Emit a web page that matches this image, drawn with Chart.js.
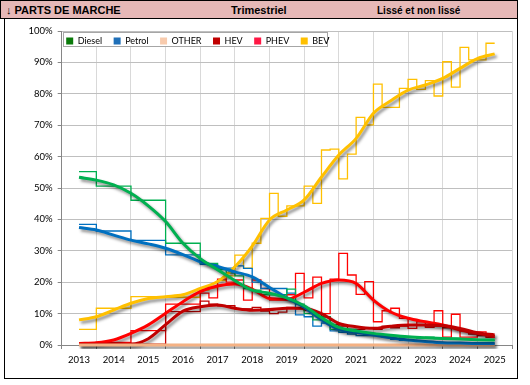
<!DOCTYPE html>
<html><head><meta charset="utf-8">
<script src="https://cdn.jsdelivr.net/npm/chart.js@4"></script>
<style>
html,body{margin:0;padding:0;background:#fff;width:530px;height:385px;overflow:hidden;position:relative}
#hdr{position:absolute;left:0;top:0;width:518px;height:19px;background:#E6B8B7;border:1px solid #000;box-sizing:border-box}
#hdr span{position:absolute;top:3px;font:bold 11px "Liberation Sans",Arial,sans-serif;color:#000;white-space:nowrap}
#frame{position:absolute;left:4px;top:19px;width:514px;height:360px;border:1.5px solid #000;border-top:none;box-sizing:border-box}
#c{position:absolute;left:0;top:0}
</style></head><body>
<div id="frame"></div>
<div id="hdr"><span style="left:5px">&#8595; PARTS DE MARCHE</span><span style="left:230px">Trimestriel</span><span style="left:376px;font-size:10px;top:4px">Lissé et non lissé</span></div>
<canvas id="c" width="530" height="385"></canvas>
<script>
// ---------- DATA ----------
const years = ['2013','2014','2015','2016','2017','2018','2019','2020','2021','2022','2023','2024','2025'];
const seriesNames = ['Diesel','Petrol','OTHER','HEV','PHEV','BEV'];

// raw (non-smoothed) periods: H2 2013, then yearly 2014-2016, then quarterly from 2017
const periodStart = [2013.5,2014,2015,2016,
  2017,2017.25,2017.5,2017.75, 2018,2018.25,2018.5,2018.75, 2019,2019.25,2019.5,2019.75,
  2020,2020.25,2020.5,2020.75, 2021,2021.25,2021.5,2021.75, 2022,2022.25,2022.5,2022.75,
  2023,2023.25,2023.5,2023.75, 2024,2024.25,2024.5,2024.75, 2025,2025.25];
const periodEnd = 2025.5;

const dieselRaw = [55.2,50.6,46.1,32.4, 26,26,24,23, 22,18,17.5,16, 16,16,17.8,13, 10,8,9,5, 4.5,5,4,3.5, 3.5,3,3,2.5, 2.5,2.2,2.5,2, 2,2.2,2,1.8, 1.5,1.5];
const petrolRaw = [38.4,36.3,33.3,28.7, 25.7,25.7,24.5,24.5, 25.2,24.4,20,18, 18,18,16.5,9.6, 9,6,7,4.5, 4,3.5,3,3, 3,2.5,1.8,1.5, 1.5,1.2,1,0.8, 0.7,0.6,0.6,0.5, 0.5,0.5];
const otherRaw  = [0,0,0,0, 0,0,0,0, 0,0,0,0, 0,0,0,0, 0,0,0,0, 0,0,0,0, 0,0,0,0, 0,0,0,0, 0,0,0,0, 0,0];
const hevRaw    = [0.2,0.3,0.3,10.6, 14,13,12.5,12.5, 11.5,11.5,12,10.8, 10,10.5,12,11.5, 11,10,9,6.5, 6,5,5,5.5, 5,6,5.5,6, 6.5,6.5,6,6, 5.5,5.5,4.5,3.5, 3,3];
const phevRaw   = [0.5,0.8,4.6,13, 16.5,15,21,20, 20.7,14.3,20.7,18, 14.3,14.3,16,22.8, 15,21.6,10,21, 29.2,22.3,16.1,20.2, 7.4,10.9,11.7,8.5, 5.3,7.4,5.6,10.9, 2.5,9.8,2.5,2.5, 4.2,2.4];
const bevRaw    = [5.0,11.7,15.4,15.2, 17.5,18.2,20.5,22, 28.6,24.5,32.4,40.3, 48.3,41,44.3,44.3, 50.6,45.1,62.1,62.4, 52.9,60.8,72.5,70.1, 83.1,75.7,75.7,81.7, 84.6,81.4,84.2,79.3, 90.2,82.1,94.8,90.8, 90.8,96.1];

// smoothed series, read every half year
const smoothT = [2013.5,2014,2014.5,2015,2015.5,2016,2016.5,2017,2017.5,2018,2018.5,2019,2019.5,2020,2020.5,2021,2021.5,2022,2022.5,2023,2023.5,2024,2024.5,2025,2025.5];
const dieselSm = [53.4,52.5,51,48.3,44.3,39.3,32.4,27.5,24,20.5,17.5,16.5,15,12.5,8.7,5.6,4.5,3.7,3.1,2.6,2.3,2.1,1.9,1.7,1.6];
const petrolSm = [37.4,36.6,35,33.4,32.2,30.8,28.8,26.5,25,23.3,21.7,18.3,15,12,8,5,4,3.2,2.3,1.6,1.1,0.7,0.6,0.5,0.5];
const otherSm  = [0,0,0,0,0,0,0,0,0,0,0,0,0,0,0,0,0,0,0,0,0,0,0,0,0];
const hevSm    = [0.2,0.2,0.2,0.3,2,6.5,10.8,12.2,12.7,11.7,11.1,11.3,11.7,11.7,10,6.9,5.8,5.3,6,6.4,6.4,6.2,5.3,3.9,3.2];
const phevSm   = [0.5,0.7,1.6,3.7,6.4,10.1,13.8,17,18.8,19.4,17.8,14.8,14.6,16.8,19.6,20.7,19.6,14.3,10.5,8.5,7.4,6.4,4.8,3.7,2.6];
const bevSm    = [8,9,11.1,13.3,14.8,15.4,16,18,20.2,24.9,31.5,39.8,43,46.2,53.5,60.5,65.8,73.8,77.8,81.2,82.8,84.9,88.1,91.2,92.7];

const yTicks = [0,10,20,30,40,50,60,70,80,90,100];

// ---------- STYLE ----------
const lineColors = ['#00B050','#0070C0','#F4B183','#C00000','#FF0000','#FFC000'];
const legendColors = ['#0A7A0A','#1F6FB8','#F8CBAD','#C00000','#FF1744','#FFC000'];
const rawSets = [dieselRaw,petrolRaw,otherRaw,hevRaw,phevRaw,bevRaw];
const smSets = [dieselSm,petrolSm,otherSm,hevSm,phevSm,bevSm];

const datasets = [];
rawSets.forEach((vals,i)=>{
  const pts = periodStart.map((t,k)=>({x:t,y:vals[k]}));
  pts.push({x:periodEnd,y:vals[vals.length-1]});
  datasets.push({label:seriesNames[i]+' raw',data:pts,xAxisID:'xd',stepped:true,borderColor:lineColors[i],
    borderWidth:1.3,pointRadius:0,fill:false,order:2,clip:4});
});
const smoothIdx = new Set();
smSets.forEach((vals,i)=>{
  smoothIdx.add(datasets.length);
  datasets.push({label:seriesNames[i],data:smoothT.map((t,k)=>({x:t,y:vals[k]})),xAxisID:'xd',
    borderColor:lineColors[i],borderWidth:3,pointRadius:0,fill:false,tension:0.4,cubicInterpolationMode:'monotone',order:1,clip:4});
});

const shadowPlugin = {
  id:'shadow',
  beforeDatasetDraw(chart,args){
    if(smoothIdx.has(args.index)){
      const ctx=chart.ctx; ctx.save();
      ctx.shadowColor='rgba(0,0,0,0.45)'; ctx.shadowOffsetX=2; ctx.shadowOffsetY=2.5; ctx.shadowBlur=3;
    }
  },
  afterDatasetDraw(chart,args){ if(smoothIdx.has(args.index)) chart.ctx.restore(); }
};
// lay the legend out as a single row inside the plot area
const legendRow = {
  id:'legendRow',
  afterInit(chart){
    const lg=chart.legend; if(!lg) return;
    lg.isHorizontal=()=>true;
    lg.setDimensions=function(){
      const ca=(this.chart&&this.chart.chartArea)||null;
      if(ca){
        this.left=ca.left-7; this.right=ca.right; this.width=this.right-this.left;
        this.top=ca.top-6; this.bottom=ca.bottom; this.height=this.bottom-this.top;
      }else{
        this.width=this.maxWidth||0; this.left=0; this.right=this.width;
        this.height=this.maxHeight||0; this.top=0; this.bottom=this.height;
      }
    };
  },
  afterDraw(chart){
    const lg=chart.legend; if(!lg||!lg.lineWidths||!lg.lineWidths.length) return;
    const ca=chart.chartArea;
    const l=ca.left+1, t=ca.top+1.3;
    const r=lg.left+lg.lineWidths[0]-3, b=ca.top+15.7;
    const ctx=chart.ctx; ctx.save();
    ctx.fillStyle='#fff'; ctx.fillRect(l,t,r-l,b-t);
    ctx.strokeStyle='#A6A6A6'; ctx.lineWidth=1; ctx.strokeRect(Math.round(l)+0.5,Math.round(t)+0.5,Math.round(r-l),Math.round(b-t));
    ctx.restore();
    lg.draw();
  }
};

new Chart(document.getElementById('c'),{
  type:'line',
  data:{labels:years,datasets},
  plugins:[shadowPlugin,legendRow],
  options:{
    responsive:false,animation:false,
    layout:{padding:{left:10,right:18,top:31,bottom:15}},
    plugins:{
      tooltip:{enabled:false},
      legend:{
        position:'chartArea',align:'start',
        labels:{
          font:{family:'Lato',size:9},color:'#000',boxWidth:7,boxHeight:7,padding:11.5,
          generateLabels:()=>seriesNames.map((n,i)=>({text:n,fillStyle:legendColors[i],strokeStyle:legendColors[i],lineWidth:0,hidden:false,datasetIndex:6+i}))
        }
      }
    },
    scales:{
      x:{type:'category',offset:true,
        grid:{offset:true,color:'#D9D9D9',lineWidth:1,tickLength:4,tickColor:'#868686'},
        border:{color:'#868686',width:1},
        ticks:{font:{family:'Lato',size:9.5},color:'#000',padding:5,maxRotation:0,autoSkip:false},
        afterFit(s){s.height=25;}
      },
      xd:{type:'linear',display:false,min:2013,max:2026},
      y:{type:'linear',min:0,max:100,
        afterBuildTicks(s){s.ticks=yTicks.map(v=>({value:v}));},
        grid:{color:'#BFBFBF',lineWidth:1,tickLength:4,tickColor:'#868686'},
        border:{color:'#868686',width:1},
        ticks:{font:{family:'Lato',size:9.5},color:'#000',padding:5,callback:v=>v+'%'},
        afterFit(s){s.width=51.7;}
      }
    }
  }
});
</script>
</body></html>
